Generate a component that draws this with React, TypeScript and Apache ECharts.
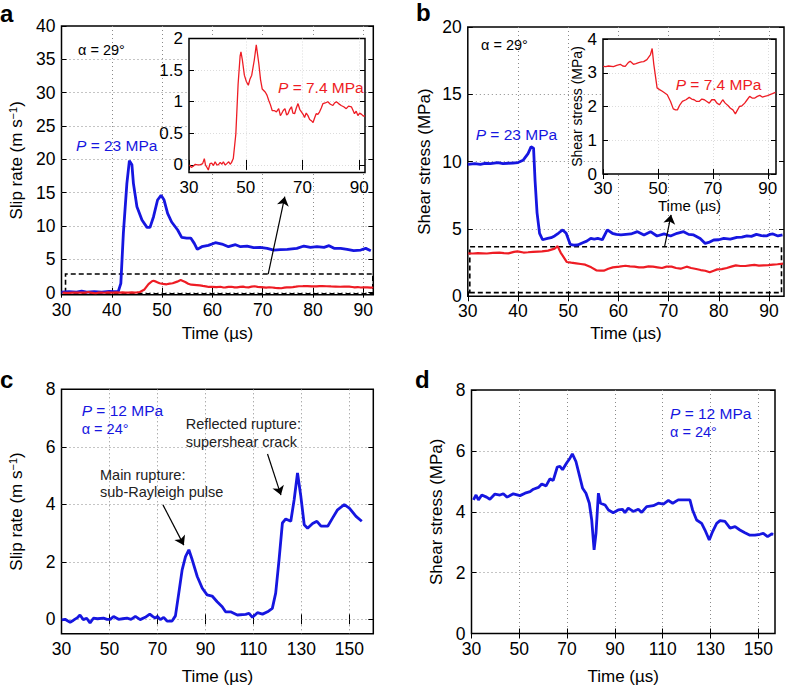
import React, { useEffect, useRef } from 'react';
import * as echarts from 'echarts';

const FONT = '"Liberation Sans", Arial, Helvetica, sans-serif';
const BLUE = '#1616e0';
const RED = '#ee1c24';

// ---- Panel a: slip rate (m/s) vs time (µs)
const slipA23: [number, number][] = [
  [30, 0.1], [31.5, 0.15], [33, 0.1], [34, 0.25], [35, 0.1], [36.5, 0.15], [38, 0.1], [39.5, 0.2], [40.5, 0.15],
  [41.3, 0.2], [41.8, 1.4], [42.3, 8.9], [43, 16.4], [43.5, 19.8], [44, 19.2], [44.3, 16.4], [45, 12.9], [46, 10.9],
  [47, 9.8], [47.6, 9.8], [48.3, 11.4], [49.1, 13.9], [49.8, 14.6], [50.4, 13.9], [51.1, 11.9], [51.9, 10.6],
  [53.1, 9.4], [53.9, 8.3], [54.9, 8.2], [55.7, 8.2], [56.4, 7.4], [57, 6.5], [57.9, 6.9], [59.2, 7.1], [60.6, 7.5],
  [61.9, 7.3], [63.2, 6.9], [64.6, 7.2], [65.6, 6.9], [66.9, 7.0], [68.2, 6.76], [69.5, 6.8], [70.9, 6.65],
  [72.2, 6.4], [73.5, 6.45], [74.9, 6.5], [76.8, 6.65], [78.2, 7.0], [79.5, 6.8], [80.8, 6.9], [82.2, 6.8],
  [83.2, 7.05], [84.2, 6.65], [85.5, 6.65], [86.8, 6.5], [88.1, 6.3], [89.5, 6.4], [90.5, 6.65], [91.5, 6.3],
];
const slipA74: [number, number][] = [
  [30.2, 0.0], [30.8, -0.04], [31.5, -0.02], [32.2, 0.01], [33, 0.0], [33.9, 0.0], [34.8, 0.02], [35.4, 0.1],
  [35.8, 0.0], [36.2, -0.03], [36.8, -0.08], [37.4, 0.02], [38, 0.03], [38.6, -0.01], [39.2, 0.05], [39.8, 0.0],
  [40.3, 0.0], [41, 0.04], [41.6, 0.01], [42.1, 0.05], [42.7, 0.0], [43.3, 0.02], [44, 0.05], [44.5, 0.01],
  [45, 0.04], [45.6, 0.1], [46.5, 0.49], [47.3, 1.28], [48, 1.72], [48.3, 1.79], [48.8, 1.66], [49.5, 1.42],
  [50.2, 1.32], [50.9, 1.26], [51.5, 1.36], [52.1, 1.42], [53, 1.66], [53.7, 1.9], [54.6, 1.6], [55.2, 1.35],
  [55.8, 1.2], [56.9, 1.15], [57.5, 1.1], [58.1, 1.02], [58.7, 0.95], [59.3, 0.86], [60, 0.86], [60.8, 0.84],
  [61.6, 0.89], [62.2, 0.78], [62.6, 0.81], [63.2, 0.86], [63.8, 0.89], [64.4, 0.79], [64.9, 0.81], [65.5, 0.88],
  [66.1, 0.92], [66.6, 0.82], [67.2, 0.81], [67.8, 0.9], [68.4, 0.97], [69, 0.88], [69.6, 0.84], [70.2, 0.8],
  [70.7, 0.75], [71.3, 0.82], [71.9, 0.78], [72.5, 0.72], [73.1, 0.7], [73.7, 0.67], [74.3, 0.75], [74.8, 0.81],
  [75.4, 0.8], [76, 0.84], [76.6, 0.9], [77.2, 0.97], [78, 0.98], [78.9, 1.0], [79.8, 0.96], [80.7, 0.94],
  [81.3, 0.98], [81.9, 1.0], [82.7, 0.97], [83.6, 0.94], [84.5, 0.92], [85.4, 0.89], [86.2, 0.93], [87.2, 0.92],
  [87.8, 0.86], [88.3, 0.81], [88.9, 0.85], [89.5, 0.78], [90.1, 0.82], [90.8, 0.8], [91.5, 0.77], [92, 0.78],
];

// ---- Panel b: shear stress (MPa) vs time (µs)
const stressB23: [number, number][] = [
  [30, 9.8], [31.4, 9.85], [32.5, 9.8], [33.4, 9.88], [34.5, 9.85], [36, 9.93], [37, 9.85], [38, 9.88], [39, 9.9],
  [40, 9.93], [41, 10.1], [42, 10.6], [42.6, 11.1], [43.1, 11.0], [43.4, 8.6], [43.8, 6.2], [44.3, 4.67],
  [44.9, 4.2], [45.9, 4.3], [46.6, 4.35], [47.3, 4.48], [48.1, 4.7], [48.9, 4.93], [49.6, 4.68], [50.4, 3.86],
  [51.1, 3.8], [51.9, 3.81], [52.9, 3.98], [53.7, 4.1], [54.5, 4.3], [55.2, 4.25], [55.9, 4.3], [56.8, 4.2],
  [57.8, 4.93], [58.8, 4.68], [59.6, 4.6], [60.5, 4.56], [61.5, 4.6], [62.5, 4.63], [63.8, 4.8], [65.1, 4.56],
  [66.4, 4.8], [67.7, 4.48], [69.1, 4.63], [70.4, 4.48], [71.7, 4.68], [73, 4.8], [74, 4.6], [75, 4.56],
  [76.3, 4.3], [77.3, 3.93], [78, 4.0], [79, 4.18], [80, 4.2], [81, 4.3], [82.3, 4.25], [83.6, 4.38], [84.6, 4.4],
  [85.6, 4.48], [86.5, 4.45], [87.5, 4.6], [88.5, 4.5], [89.5, 4.48], [90.2, 4.6], [90.8, 4.63], [91.8, 4.48],
  [92.7, 4.56],
];
const stressB74: [number, number][] = [
  [30.1, 3.19], [31, 3.18], [32, 3.2], [33.8, 3.18], [35, 3.22], [36.3, 3.25], [37.2, 3.2], [38.1, 3.19],
  [39.2, 3.3], [39.9, 3.34], [41.1, 3.25], [42, 3.27], [43, 3.3], [44, 3.32], [44.8, 3.33], [46, 3.39],
  [47.3, 3.54], [47.9, 3.72], [48.5, 3.25], [49.7, 2.55], [50.6, 2.5], [51.6, 2.45], [52.5, 2.4], [53.4, 2.35],
  [54.6, 2.15], [55.6, 1.93], [56.4, 1.9], [57.1, 1.9], [58, 2.05], [58.9, 2.15], [60.2, 2.2], [61.4, 2.27],
  [62.3, 2.22], [63.2, 2.2], [64.1, 2.15], [65, 2.15], [66, 2.22], [66.9, 2.2], [67.8, 2.15], [68.7, 2.1],
  [69.6, 2.2], [70.6, 2.2], [71.5, 2.1], [72.4, 2.05], [73.6, 2.2], [74.5, 2.1], [75.5, 2.03], [76.4, 1.95],
  [77.3, 1.9], [78.2, 1.78], [79, 1.9], [79.7, 2.0], [80.6, 2.02], [81.6, 2.1], [82.5, 2.2], [83.4, 2.3],
  [84.3, 2.25], [85.3, 2.25], [86.2, 2.3], [87.1, 2.33], [88, 2.28], [88.9, 2.3], [89.9, 2.32], [90.8, 2.35],
  [91.7, 2.38], [92.8, 2.42],
];

// ---- Panel c: slip rate, P = 12 MPa
const slipC: [number, number][] = [
  [30.1, -0.02], [31.5, 0.0], [32.5, -0.05], [33.6, -0.1], [35, -0.03], [36.5, 0.05], [37.7, 0.15], [39.1, -0.01],
  [40.5, 0.04], [41.9, -0.13], [43.3, 0.04], [45, 0.02], [47.5, 0.04], [49, 0.0], [50.3, 0.0], [51.7, 0.1],
  [53.8, 0.0], [55.5, 0.02], [57.3, 0.04], [59, 0.0], [60.8, 0.1], [62.8, -0.01], [64.9, 0.07], [66.8, 0.18],
  [68, 0.1], [69.1, 0.04], [70, 0.1], [71.2, -0.01], [72.6, 0.07], [74, -0.06], [76.1, -0.06], [77.5, 0.12],
  [78.9, 0.91], [80.3, 1.72], [81.7, 2.18], [83.1, 2.42], [84.5, 2.07], [86.6, 1.49], [88.7, 1.08], [90.7, 0.85],
  [92.8, 0.81], [94.9, 0.61], [97, 0.44], [98.4, 0.26], [100.5, 0.26], [103.3, 0.15], [106.8, 0.17], [108.2, 0.21],
  [109.6, 0.07], [111.7, 0.23], [113.8, 0.18], [115.9, 0.26], [117.9, 0.38], [119.3, 0.91], [120.7, 2.07],
  [122.1, 3.35], [123.5, 3.49], [125.6, 3.41], [127, 4.16], [128.4, 5.09], [129.8, 4.27], [131.2, 3.29],
  [132.6, 3.17], [134.7, 3.33], [136.5, 3.41], [138.2, 3.24], [141, 3.24], [143, 3.52], [145.1, 3.81],
  [147.9, 3.99], [150, 3.87], [152.8, 3.58], [155.2, 3.41],
];

// ---- Panel d: shear stress, P = 12 MPa
const stressD: [number, number][] = [
  [30.8, 4.39], [31.9, 4.55], [32.9, 4.39], [34.3, 4.55], [36.3, 4.48], [37.7, 4.41], [39.8, 4.58], [41.9, 4.55],
  [43.3, 4.59], [44.9, 4.48], [47.5, 4.59], [50.3, 4.53], [52.4, 4.61], [54.5, 4.66], [55.9, 4.74], [58, 4.8],
  [59.4, 4.91], [61.2, 4.85], [62.8, 5.08], [64.2, 5.03], [65.9, 5.47], [67, 5.49], [68.1, 5.38], [69.8, 5.6],
  [71.2, 5.76], [72.2, 5.9], [73.7, 5.65], [75.1, 5.21], [76.5, 4.77], [77.9, 4.61], [79.3, 4.28], [80.3, 3.73],
  [81.3, 2.75], [82.1, 3.29], [83.1, 4.61], [84.0, 4.28], [85.9, 4.22], [87.3, 4.06], [89.3, 3.97], [91.4, 4.06],
  [93.2, 4.08], [94.2, 3.97], [95.6, 4.12], [97.7, 4.01], [99.8, 4.08], [101.2, 3.98], [103.3, 4.17], [106.1, 4.2],
  [108.2, 4.28], [110.3, 4.25], [112.4, 4.37], [114.2, 4.28], [116.5, 4.39], [119.3, 4.39], [121.4, 4.39],
  [122.5, 4.06], [124.2, 3.73], [126.3, 3.62], [127.7, 3.4], [129.5, 3.07], [130.9, 3.35], [132.6, 3.62],
  [134, 3.71], [136.1, 3.68], [138.2, 3.46], [140.3, 3.51], [142.3, 3.4], [144.4, 3.31], [146.5, 3.23],
  [148.6, 3.23], [150.7, 3.26], [152.1, 3.29], [153.9, 3.18], [155.6, 3.27], [156.3, 3.26],
];

// ---- Tick values
const ticksT10 = [30, 40, 50, 60, 70, 80, 90];
const ticksT20 = [30, 50, 70, 90];
const ticksT20long = [30, 50, 70, 90, 110, 130, 150];
const ticksSlipA = [0, 5, 10, 15, 20, 25, 30, 35, 40];
const ticksSlipAInset = [0, 0.5, 1, 1.5, 2];
const ticksStressB = [0, 5, 10, 15, 20];
const ticksStressBInset = [0, 1, 2, 3, 4];
const ticks0to8 = [0, 2, 4, 6, 8];

const mainGridLine = { color: '#8a8a8a', width: 1, type: [1, 3] as number[] };
const insetGridLine = { color: '#dcdcdc', width: 1, type: [1, 2] as number[] };

function axis(gridIndex: number, min: number, max: number, ticks: number[], o: any = {}) {
  return {
    type: 'value',
    gridIndex,
    min,
    max,
    z: o.z ?? 0,
    name: o.name ?? '',
    nameLocation: 'middle',
    nameGap: o.nameGap ?? 30,
    nameTextStyle: {
      color: '#000',
      fontSize: o.nameSize ?? 17,
      fontFamily: FONT,
      rich: {
        sup: { fontSize: 11, fontFamily: FONT, color: '#000', verticalAlign: 'top', padding: [0, 0, 0, 0] },
      },
    },
    axisLine: { show: false },
    axisTick: {
      show: true,
      inside: true,
      length: 5,
      customValues: ticks,
      lineStyle: { color: '#000', width: 1 },
    },
    axisLabel: {
      customValues: ticks,
      color: '#000',
      fontSize: o.fs ?? 17.5,
      fontFamily: FONT,
      margin: o.margin ?? 6,
      formatter: (v: number) => String(v),
    },
    splitLine: {
      show: true,
      showMinLine: ticks[0] !== min,
      showMaxLine: ticks[ticks.length - 1] !== max,
      lineStyle: o.gridLine ?? mainGridLine,
    },
  };
}

// mirror axis (top / right) with inside ticks only, as in a boxed plot
function mirror(gridIndex: number, min: number, max: number, ticks: number[], position: string, z = 0) {
  return {
    type: 'value',
    gridIndex,
    min,
    max,
    position,
    z,
    axisLine: { show: false },
    axisTick: { show: true, inside: true, length: 5, customValues: ticks, lineStyle: { color: '#000', width: 1 } },
    axisLabel: { show: false, customValues: ticks },
    splitLine: { show: false },
  };
}

const boxStyle = { color: 'rgba(0,0,0,0)', borderColor: '#000', borderWidth: 1.6, borderType: [5, 3] as number[] };
const arrowLine = (segments: number[][][]) => ({
  silent: true,
  symbol: ['none', 'arrow'],
  symbolSize: 9,
  label: { show: false },
  lineStyle: { color: '#000', width: 1.2, type: 'solid' },
  data: segments.map(([from, to]) => [{ coord: from }, { coord: to }]),
});

function txt(x: number, y: number, text: string, fill: string, size: number, extra: any = {}) {
  return {
    type: 'text',
    x,
    y,
    z: 100,
    silent: true,
    style: {
      text,
      fill,
      font: `${extra.weight ?? 'normal'} ${size}px ${FONT}`,
      verticalAlign: 'middle',
      align: 'left',
      rich: {
        i: { font: `italic ${size}px ${FONT}`, fill },
        n: { font: `${size}px ${FONT}`, fill },
      },
    },
  };
}

export default function App() {
  const ref = useRef<HTMLDivElement>(null);
  useEffect(() => {
    if (!ref.current) return;
    const chart = echarts.init(ref.current, undefined, { renderer: 'svg' });
    const gridBox = { show: true, borderColor: '#000', borderWidth: 1.5 };
    const option: any = {
      animation: false,
      backgroundColor: '#fff',
      grid: [
        { left: 61.5, top: 26, width: 311.8, height: 268.7, ...gridBox, backgroundColor: 'transparent', z: 0 },
        { left: 189, top: 38.5, width: 176, height: 134, ...gridBox, backgroundColor: '#fff', z: 3 },
        { left: 467.8, top: 27, width: 316.2, height: 269.3, ...gridBox, backgroundColor: 'transparent', z: 0 },
        { left: 603, top: 39, width: 173, height: 135, ...gridBox, backgroundColor: '#fff', z: 3 },
        { left: 61.5, top: 389.3, width: 311.8, height: 244.4, ...gridBox, backgroundColor: 'transparent', z: 0 },
        { left: 471.5, top: 390, width: 303.5, height: 243.5, ...gridBox, backgroundColor: 'transparent', z: 0 },
      ],
      xAxis: [
        axis(0, 30, 92, ticksT10, { name: 'Time (µs)', nameGap: 30 }),
        axis(1, 30, 92, ticksT20, { z: 4, gridLine: insetGridLine, fs: 17 }),
        axis(2, 30, 93, ticksT10, { name: 'Time (µs)', nameGap: 29 }),
        axis(3, 30, 93, ticksT20, { z: 4, gridLine: insetGridLine, fs: 17, name: 'Time (µs)', nameGap: 21, nameSize: 15 }),
        axis(4, 30, 160, ticksT20long, { name: 'Time (µs)', nameGap: 34 }),
        axis(5, 30, 157, ticksT20long, { name: 'Time (µs)', nameGap: 34 }),
        mirror(0, 30, 92, ticksT10, 'top'),
        mirror(2, 30, 93, ticksT10, 'top'),
        mirror(4, 30, 160, ticksT20long, 'top'),
        mirror(5, 30, 157, ticksT20long, 'top'),
        mirror(1, 30, 92, ticksT20, 'top', 4),
        mirror(3, 30, 93, ticksT20, 'top', 4),
      ],
      yAxis: [
        axis(0, -0.3, 40, ticksSlipA, { name: 'Slip rate (m s{sup|−1})', nameGap: 37 }),
        axis(1, -0.12, 2, ticksSlipAInset, { z: 4, gridLine: insetGridLine, fs: 17 }),
        axis(2, 0, 20, ticksStressB, { name: 'Shear stress (MPa)', nameGap: 35 }),
        axis(3, 0, 4, ticksStressBInset, { z: 4, gridLine: insetGridLine, fs: 17, name: 'Shear stress (MPa)', nameGap: 18, nameSize: 14 }),
        axis(4, -0.5, 8, ticks0to8, { name: 'Slip rate (m s{sup|−1})', nameGap: 37 }),
        axis(5, 0, 8, ticks0to8, { name: 'Shear stress (MPa)', nameGap: 27 }),
        mirror(0, -0.3, 40, ticksSlipA, 'right'),
        mirror(2, 0, 20, ticksStressB, 'right'),
        mirror(4, -0.5, 8, ticks0to8, 'right'),
        mirror(5, 0, 8, ticks0to8, 'right'),
        mirror(1, -0.12, 2, ticksSlipAInset, 'right', 4),
        mirror(3, 0, 4, ticksStressBInset, 'right', 4),
      ],
      series: [
        {
          type: 'line', xAxisIndex: 0, yAxisIndex: 0, data: slipA23, showSymbol: false, z: 2,
          lineStyle: { color: BLUE, width: 2.8 }, itemStyle: { color: BLUE },
        },
        {
          type: 'line', xAxisIndex: 0, yAxisIndex: 0, data: slipA74, showSymbol: false, z: 2,
          lineStyle: { color: RED, width: 2.2 }, itemStyle: { color: RED },
          markArea: { silent: true, itemStyle: boxStyle, data: [[{ coord: [30.8, -0.15] }, { coord: [91.9, 2.8] }]] },
          markLine: arrowLine([[[71.1, 2.8], [74.4, 14.4]]]),
        },
        {
          type: 'line', xAxisIndex: 1, yAxisIndex: 1, data: slipA74, showSymbol: false, z: 5,
          lineStyle: { color: RED, width: 1.3 }, itemStyle: { color: RED },
        },
        {
          type: 'line', xAxisIndex: 2, yAxisIndex: 2, data: stressB23, showSymbol: false, z: 2,
          lineStyle: { color: BLUE, width: 2.8 }, itemStyle: { color: BLUE },
        },
        {
          type: 'line', xAxisIndex: 2, yAxisIndex: 2, data: stressB74, showSymbol: false, z: 2,
          lineStyle: { color: RED, width: 2.2 }, itemStyle: { color: RED },
          markArea: { silent: true, itemStyle: boxStyle, data: [[{ coord: [30.4, 0.27] }, { coord: [92.5, 3.68] }]] },
          markLine: arrowLine([[[69.2, 3.68], [70.5, 6.05]]]),
        },
        {
          type: 'line', xAxisIndex: 3, yAxisIndex: 3, data: stressB74, showSymbol: false, z: 5,
          lineStyle: { color: RED, width: 1.3 }, itemStyle: { color: RED },
        },
        {
          type: 'line', xAxisIndex: 4, yAxisIndex: 4, data: slipC, showSymbol: false, z: 2,
          lineStyle: { color: BLUE, width: 2.8 }, itemStyle: { color: BLUE },
          markLine: arrowLine([
            [[72.3, 3.98], [81, 2.58]],
            [[115.9, 5.75], [121.5, 4.32]],
          ]),
        },
        {
          type: 'line', xAxisIndex: 5, yAxisIndex: 5, data: stressD, showSymbol: false, z: 2,
          lineStyle: { color: BLUE, width: 2.8 }, itemStyle: { color: BLUE },
        },
      ],
      graphic: [
        txt(0, 13, 'a', '#000', 24, { weight: 'bold' }),
        txt(416, 12, 'b', '#000', 24, { weight: 'bold' }),
        txt(0, 379, 'c', '#000', 24, { weight: 'bold' }),
        txt(415, 379, 'd', '#000', 24, { weight: 'bold' }),
        txt(78, 50, 'α = 29°', '#000', 14.5),
        txt(76, 145.7, '{i|P}{n| = 23 MPa}', BLUE, 15.5),
        txt(278, 87.3, '{i|P}{n| = 7.4 MPa}', RED, 15.5),
        txt(481, 45, 'α = 29°', '#000', 14.5),
        txt(475.7, 134, '{i|P}{n| = 23 MPa}', BLUE, 15.5),
        txt(675.7, 84, '{i|P}{n| = 7.4 MPa}', RED, 15.5),
        txt(81.7, 410.7, '{i|P}{n| = 12 MPa}', BLUE, 15.5),
        txt(81.7, 429, 'α = 24°', BLUE, 14.5),
        txt(100, 475, 'Main rupture:', '#222', 14.5),
        txt(100, 491.7, 'sub-Rayleigh pulse', '#222', 14.5),
        txt(185.7, 424, 'Reflected rupture:', '#222', 14.5),
        txt(185.7, 441.7, 'supershear crack', '#222', 14.5),
        txt(670, 413, '{i|P}{n| = 12 MPa}', BLUE, 15.5),
        txt(670, 432, 'α = 24°', BLUE, 14.5),
      ],
    };
    chart.setOption(option);
    return () => chart.dispose();
  }, []);
  return (
    <div
      ref={ref}
      style={{ position: 'fixed', left: 0, top: 0, width: 788, height: 688, background: '#fff' }}
    />
  );
}
